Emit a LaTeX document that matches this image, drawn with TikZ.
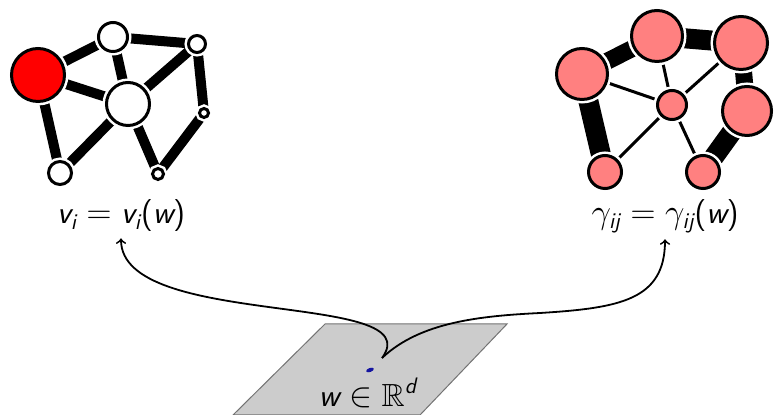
\documentclass[tikz,border=0pt]{standalone}
\usepackage{amsmath,amssymb}
\usetikzlibrary{backgrounds,shapes.geometric}
\definecolor{salmon}{RGB}{255,128,128}
\definecolor{dotblue}{RGB}{20,20,160}
\newcommand\sfi[1]{\text{\sffamily\itshape #1}}
\newcommand\sfu[1]{\text{\sffamily #1}}
\tikzset{
  lnode/.style={circle, draw=black, line width=1.5pt, fill=white, inner sep=0pt,
    preaction={draw=white, line width=4pt}},
  rnode/.style={circle, draw=black, line width=1.5pt, fill=salmon, inner sep=0pt,
    preaction={draw=white, line width=4pt}},
  ledge/.style={line width=5pt},
  rthick/.style={line width=10pt},
  rmid/.style={line width=8.5pt},
  rthin/.style={line width=1.5pt},
  lab/.style={font=\fontsize{16}{19}\selectfont, inner sep=3pt},
  curve/.style={line width=0.9pt, ->},
}
\begin{document}
\begin{tikzpicture}[x=0.5pt, y=-0.5pt]
\useasboundingbox (0,0) rectangle (774,415);
% left graph
\node[lnode, fill=red, minimum size=26.5pt] (a1) at (38,75) {};
\node[lnode, minimum size=14.5pt] (a2) at (113,37) {};
\node[lnode, minimum size=8.5pt] (a3) at (197,44) {};
\node[lnode, minimum size=21.5pt] (a4) at (128,104) {};
\node[lnode, minimum size=4.5pt] (a5) at (204,113) {};
\node[lnode, minimum size=11.5pt] (a6) at (60,173) {};
\node[lnode, minimum size=5.5pt] (a7) at (158,174) {};
\begin{scope}[on background layer]
\draw[ledge] (a1) -- (a2);
\draw[ledge] (a1) -- (a4);
\draw[ledge] (a1) -- (a6);
\draw[ledge] (a2) -- (a4);
\draw[ledge] (a2) -- (a3);
\draw[ledge] (a3) -- (a4);
\draw[ledge] (a3) -- (a5);
\draw[ledge] (a4) -- (a6);
\draw[ledge] (a4) -- (a7);
\draw[ledge] (a7) -- (a5);
\end{scope}
% right graph
\node[rnode, minimum size=25.5pt] (b1) at (582,74) {};
\node[rnode, minimum size=25.5pt] (b2) at (657,36) {};
\node[rnode, minimum size=26.5pt] (b3) at (741,43) {};
\node[rnode, minimum size=24.5pt] (b4) at (747,111) {};
\node[rnode, minimum size=14.5pt] (b5) at (672,105) {};
\node[rnode, minimum size=16.5pt] (b6) at (605,172) {};
\node[rnode, minimum size=16.5pt] (b7) at (703,172) {};
\begin{scope}[on background layer]
\draw[rmid] (b1) -- (b2);
\draw[rthick] (b2) -- (b3);
\draw[rmid] (b3) -- (b4);
\draw[rthick] (b1) -- (b6);
\draw[rthick] (b4) -- (b7);
\draw[rthin] (b1) -- (b5);
\draw[rthin] (b2) -- (b5);
\draw[rthin] (b3) -- (b5);
\draw[rthin] (b5) -- (b6);
\draw[rthin] (b5) -- (b7);
\end{scope}
% labels
\node[lab] (vi) at (121,216) {$\sfi{v}_{\sfi{i}} = \sfi{v}_{\sfi{i}}\sfu{(}\sfi{w}\sfu{)}$};
\node[lab] (gij) at (665,216) {$\gamma_{\sfi{ij}} = \gamma_{\sfi{ij}}\sfu{(}\sfi{w}\sfu{)}$};
% plane
\draw[fill=black!20, draw=black!55, line width=0.5pt] (325,324) -- (507,324) -- (420,415) -- (233,415) -- cycle;
\node[ellipse, fill=dotblue, minimum width=4pt, minimum height=2pt, inner sep=0pt, rotate=20] (w) at (370,370) {};
\node[lab] (wlab) at (368,393) {$\sfi{w} \in \mathbb{R}^{\sfi{d}}$};
\coordinate (wp) at (382,358);
\coordinate (mid) at (540,313);
\draw[curve] (wp) .. controls (432,290) and (121,330) .. (vi.south);
\draw[curve] (wp) .. controls (420,322) and (480,316) .. (mid) .. controls (620,308) and (665,300) .. (gij.south);
\end{tikzpicture}
\end{document}
